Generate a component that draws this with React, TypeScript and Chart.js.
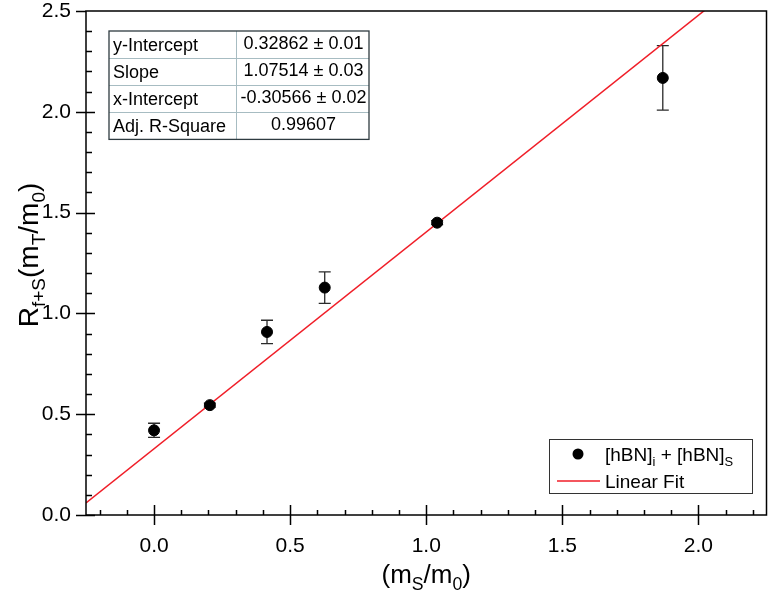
import React, { useEffect, useRef } from "react";
import { Chart, registerables } from "chart.js";

Chart.register(...registerables);

// ---- data ----
const xValues = [0.0, 0.205, 0.415, 0.627, 1.04, 1.869];
const yValues = [0.42, 0.545, 0.908, 1.128, 1.45, 2.168];
const yErrors = [0.035, 0.01, 0.058, 0.078, 0.01, 0.16];
const fitX = [-0.25, 2.25];
const fitY = [0.0598, 2.7477];
const xTicks = [0.0, 0.5, 1.0, 1.5, 2.0];
const yTicks = [0.0, 0.5, 1.0, 1.5, 2.0, 2.5];
const tableLabels = ["y-Intercept", "Slope", "x-Intercept", "Adj. R-Square"];
const tableValues = ["0.32862 \u00b1 0.01", "1.07514 \u00b1 0.03", "-0.30566 \u00b1 0.02", "0.99607"];

const FONT = "'Liberation Sans', Arial, sans-serif";

type Seg = { t: string; sub?: boolean };

function richWidth(ctx: CanvasRenderingContext2D, segs: Seg[], size: number) {
  let w = 0;
  for (const s of segs) {
    ctx.font = `${s.sub ? size * 0.68 : size}px ${FONT}`;
    w += ctx.measureText(s.t).width;
  }
  return w;
}

function drawRich(ctx: CanvasRenderingContext2D, segs: Seg[], x: number, y: number, size: number, align: "left" | "center") {
  const w = richWidth(ctx, segs, size);
  let cx = align === "center" ? x - w / 2 : x;
  ctx.textAlign = "left";
  ctx.textBaseline = "alphabetic";
  for (const s of segs) {
    const fs = s.sub ? size * 0.68 : size;
    ctx.font = `${fs}px ${FONT}`;
    ctx.fillText(s.t, cx, s.sub ? y + size * 0.25 : y);
    cx += ctx.measureText(s.t).width;
  }
}

const decorPlugin = {
  id: "decor",
  beforeDatasetsDraw(chart: any) {
    const ctx: CanvasRenderingContext2D = chart.ctx;
    const xs = chart.scales.x;
    const ys = chart.scales.y;
    ctx.save();
    ctx.strokeStyle = "#2a2a2a";
    ctx.lineWidth = 1.3;
    for (let i = 0; i < xValues.length; i++) {
      const px = xs.getPixelForValue(xValues[i]);
      const top = ys.getPixelForValue(yValues[i] + yErrors[i]);
      const bot = ys.getPixelForValue(yValues[i] - yErrors[i]);
      ctx.beginPath();
      ctx.moveTo(px, top);
      ctx.lineTo(px, bot);
      ctx.moveTo(px - 6, top);
      ctx.lineTo(px + 6, top);
      ctx.moveTo(px - 6, bot);
      ctx.lineTo(px + 6, bot);
      ctx.stroke();
    }
    ctx.restore();
  },
  afterDraw(chart: any) {
    const ctx: CanvasRenderingContext2D = chart.ctx;
    const { left, right, top, bottom } = chart.chartArea;
    const xs = chart.scales.x;
    const ys = chart.scales.y;
    ctx.save();
    // frame
    ctx.strokeStyle = "#000";
    ctx.lineWidth = 1.5;
    ctx.strokeRect(left, top, right - left, bottom - top);
    // major ticks
    ctx.beginPath();
    for (const v of xTicks) {
      const px = Math.round(xs.getPixelForValue(v)) + 0.5;
      ctx.moveTo(px, bottom - 10);
      ctx.lineTo(px, bottom + 10);
    }
    for (const v of yTicks) {
      const py = Math.round(ys.getPixelForValue(v)) + 0.5;
      if (v === 2.5) {
        ctx.moveTo(left - 10, py);
        ctx.lineTo(left, py);
      } else {
        ctx.moveTo(left - 10, py);
        ctx.lineTo(left + 9, py);
      }
    }
    ctx.stroke();
    // minor ticks
    ctx.beginPath();
    for (let k = -2; k <= 22; k++) {
      if (k % 5 === 0) continue;
      const px = Math.round(xs.getPixelForValue(k / 10)) + 0.5;
      ctx.moveTo(px, bottom);
      ctx.lineTo(px, bottom - 5);
    }
    for (let k = 1; k < 25; k++) {
      if (k % 5 === 0) continue;
      const py = Math.round(ys.getPixelForValue(k / 10)) + 0.5;
      ctx.moveTo(left, py);
      ctx.lineTo(left + 6, py);
    }
    ctx.stroke();

    // axis titles
    ctx.fillStyle = "#000";
    drawRich(
      ctx,
      [{ t: "(m" }, { t: "S", sub: true }, { t: "/m" }, { t: "0", sub: true }, { t: ")" }],
      (left + right) / 2,
      583,
      26,
      "center"
    );
    ctx.save();
    ctx.translate(38, 255);
    ctx.rotate(-Math.PI / 2);
    drawRich(
      ctx,
      [
        { t: "R" },
        { t: "f+S", sub: true },
        { t: "(m" },
        { t: "T", sub: true },
        { t: "/m" },
        { t: "0", sub: true },
        { t: ")" },
      ],
      0,
      0,
      28,
      "center"
    );
    ctx.restore();

    // stats table
    const tx0 = 109, tx1 = 236, tx2 = 369, ty0 = 31, rowH = 27.1;
    const ty1 = ty0 + rowH * tableLabels.length;
    ctx.strokeStyle = "#a7bcc2";
    ctx.lineWidth = 1;
    ctx.beginPath();
    for (let r = 1; r < tableLabels.length; r++) {
      const y = Math.round(ty0 + r * rowH) + 0.5;
      ctx.moveTo(tx0, y);
      ctx.lineTo(tx2, y);
    }
    ctx.moveTo(tx1 + 0.5, ty0);
    ctx.lineTo(tx1 + 0.5, ty1);
    ctx.stroke();
    ctx.strokeStyle = "#2e3b40";
    ctx.lineWidth = 1.3;
    ctx.strokeRect(tx0, ty0, tx2 - tx0, ty1 - ty0);
    ctx.fillStyle = "#000";
    ctx.font = `18px ${FONT}`;
    ctx.textBaseline = "middle";
    for (let r = 0; r < tableLabels.length; r++) {
      const cy = ty0 + rowH * (r + 0.5);
      ctx.textAlign = "left";
      ctx.fillText(tableLabels[r], tx0 + 4, cy + 1);
      ctx.textAlign = "center";
      ctx.fillText(tableValues[r], (tx1 + tx2) / 2 + 1, cy - 1);
    }

    // legend
    ctx.strokeStyle = "#333";
    ctx.lineWidth = 1;
    ctx.strokeRect(549.5, 439.5, 203, 54);
    ctx.fillStyle = "#000";
    ctx.beginPath();
    ctx.arc(578, 454, 5.5, 0, Math.PI * 2);
    ctx.fill();
    drawRich(
      ctx,
      [{ t: "[hBN]" }, { t: "i", sub: true }, { t: " + [hBN]" }, { t: "S", sub: true }],
      605,
      461,
      19,
      "left"
    );
    ctx.strokeStyle = "rgb(240,30,40)";
    ctx.lineWidth = 1.5;
    ctx.beginPath();
    ctx.moveTo(557, 481);
    ctx.lineTo(600, 481);
    ctx.stroke();
    ctx.fillStyle = "#000";
    ctx.font = `19px ${FONT}`;
    ctx.textAlign = "left";
    ctx.textBaseline = "alphabetic";
    ctx.fillText("Linear Fit", 605, 488);
    ctx.restore();
  },
};

export default function App() {
  const canvasRef = useRef<HTMLCanvasElement | null>(null);

  useEffect(() => {
    if (!canvasRef.current) return;
    const chart = new Chart(canvasRef.current, {
      type: "scatter",
      data: {
        datasets: [
          {
            label: "[hBN]i + [hBN]S",
            data: xValues.map((x, i) => ({ x, y: yValues[i] })),
            backgroundColor: "#000",
            borderColor: "#000",
            pointRadius: 5.5,
            pointHoverRadius: 5.5,
            showLine: false,
            order: 0,
          },
          {
            label: "Linear Fit",
            data: fitX.map((x, i) => ({ x, y: fitY[i] })),
            showLine: true,
            borderColor: "rgb(240,30,40)",
            borderWidth: 1.5,
            pointRadius: 0,
            fill: false,
            order: 1,
          },
        ],
      },
      options: {
        responsive: false,
        animation: false,
        events: [],
        layout: { padding: { top: 11, right: 5, left: 0, bottom: 0 } },
        plugins: { legend: { display: false }, tooltip: { enabled: false }, title: { display: false } },
        scales: {
          x: {
            type: "linear",
            min: -0.25,
            max: 2.25,
            grid: { display: false, drawTicks: false },
            border: { display: false },
            afterBuildTicks: (s: any) => {
              s.ticks = xTicks.map((v) => ({ value: v }));
            },
            afterFit: (s: any) => {
              s.height = 77;
              s.paddingLeft = 0;
              s.paddingRight = 0;
              s.paddingTop = 0;
              s.paddingBottom = 0;
            },
            ticks: {
              color: "#000",
              padding: 19,
              maxRotation: 0,
              autoSkip: false,
              font: { family: FONT, size: 21 },
              callback: (v: any) => Number(v).toFixed(1),
            },
          },
          y: {
            type: "linear",
            min: 0,
            max: 2.5,
            grid: { display: false, drawTicks: false },
            border: { display: false },
            afterBuildTicks: (s: any) => {
              s.ticks = yTicks.map((v) => ({ value: v }));
            },
            afterFit: (s: any) => {
              s.width = 86;
              s.paddingLeft = 0;
              s.paddingRight = 0;
              s.paddingTop = 0;
              s.paddingBottom = 0;
            },
            ticks: {
              color: "#000",
              padding: 15,
              autoSkip: false,
              font: { family: FONT, size: 21 },
              callback: (v: any) => Number(v).toFixed(1),
            },
          },
        },
      },
      plugins: [decorPlugin],
    });
    return () => chart.destroy();
  }, []);

  return (
    <div style={{ position: "fixed", left: 0, top: 0, width: 773, height: 592, background: "#fff" }}>
      <canvas ref={canvasRef} width={773} height={592} style={{ display: "block" }} />
    </div>
  );
}
